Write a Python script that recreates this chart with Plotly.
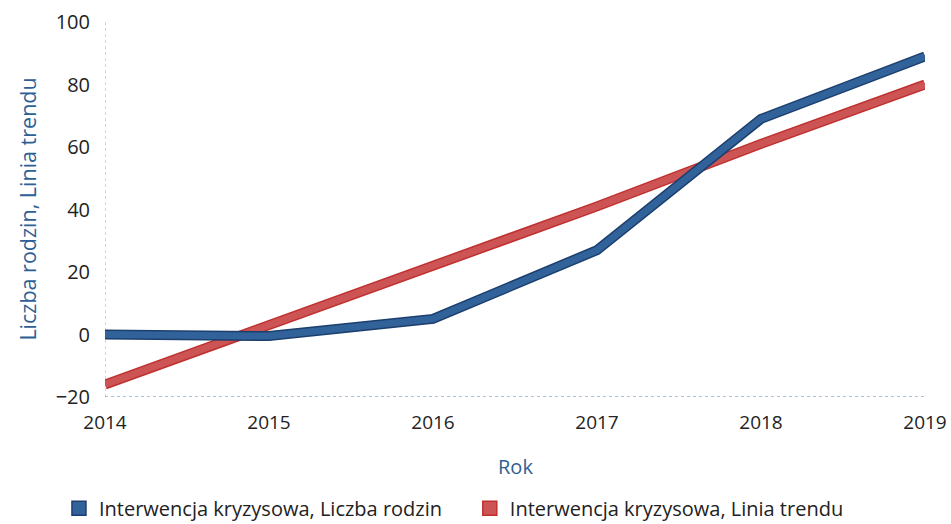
import plotly.graph_objects as go

years = [2014, 2015, 2016, 2017, 2018, 2019]
liczba_rodzin = [0, -0.5, 5, 27, 69, 89]
linia_trendu = [-16, 3, 22, 41, 61, 80]

name_blue = "Interwencja kryzysowa, Liczba rodzin"
name_red = "Interwencja kryzysowa, Linia trendu"

blue_fill = "#31639a"
blue_edge = "#1c3f6e"
red_fill = "#cd5454"
red_edge = "#c0302f"
title_blue = "#2f5f94"

fig = go.Figure()
fig.add_trace(go.Scatter(x=years, y=linia_trendu, mode="lines",
                         line=dict(color=red_edge, width=10), showlegend=False, hoverinfo="skip"))
fig.add_trace(go.Scatter(x=years, y=linia_trendu, mode="lines",
                         line=dict(color=red_fill, width=7), showlegend=False, name=name_red))
fig.add_trace(go.Scatter(x=years, y=liczba_rodzin, mode="lines",
                         line=dict(color=blue_edge, width=10), showlegend=False, hoverinfo="skip"))
fig.add_trace(go.Scatter(x=years, y=liczba_rodzin, mode="lines",
                         line=dict(color=blue_fill, width=7), showlegend=False, name=name_blue))
fig.add_trace(go.Scatter(x=[None], y=[None], mode="markers", name=name_blue, legend="legend",
                         marker=dict(symbol="square", size=14, color=blue_fill,
                                     line=dict(color=blue_edge, width=1.5))))
fig.add_trace(go.Scatter(x=[None], y=[None], mode="markers", name=name_red, legend="legend2",
                         marker=dict(symbol="square", size=14, color=red_fill,
                                     line=dict(color=red_edge, width=1.5))))

legend_common = dict(orientation="h", xanchor="left", yref="container", y=0.03, yanchor="middle",
                     xref="container", font=dict(size=20, color="#222222"), itemwidth=30)

fig.update_layout(
    width=951, height=524,
    margin=dict(l=105, r=26, t=22, b=127, autoexpand=False),
    paper_bgcolor="white", plot_bgcolor="white",
    font=dict(family="Open Sans", size=19, color="#222222"),
    showlegend=True,
    legend=dict(x=0.062, **legend_common),
    legend2=dict(x=0.494, **legend_common),
    xaxis=dict(range=[2014, 2019], tickvals=years, ticktext=[str(y) for y in years],
               showgrid=False, zeroline=False, showline=False, automargin=False,
               tickfont=dict(size=19), ticklabelstandoff=12),
    yaxis=dict(range=[-20, 100], tickvals=[-20, 0, 20, 40, 60, 80, 100],
               showgrid=False, zeroline=False, showline=False, automargin=False,
               tickfont=dict(size=20), ticklabelstandoff=14),
    annotations=[
        dict(text="Rok", xref="paper", yref="paper", x=0.5, y=-0.185, xanchor="center", yanchor="middle",
             showarrow=False, font=dict(size=20, color=title_blue)),
        dict(text="Liczba rodzin, Linia trendu", xref="paper", yref="paper", x=-0.095, y=0.5,
             xanchor="center", yanchor="middle", textangle=-90,
             showarrow=False, font=dict(size=21.5, color=title_blue)),
    ],
    shapes=[
        dict(type="line", xref="x", yref="paper", x0=2014, x1=2014, y0=0, y1=1,
             line=dict(color="#9ab0cc", width=1, dash="dot"), layer="below"),
        dict(type="line", xref="paper", yref="y", x0=0, x1=1, y0=-20, y1=-20,
             line=dict(color="#5a86b5", width=1.2, dash="dot"), layer="below"),
    ],
)

fig.write_html("out.html", config={"displayModeBar": False},
               post_script="document.body.style.margin='0';")
